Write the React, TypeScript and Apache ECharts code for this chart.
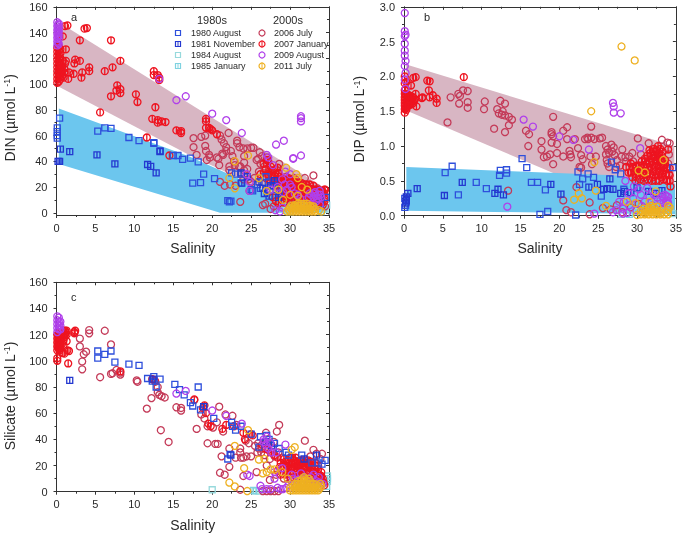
import React, { useEffect, useRef } from "react";
import * as echarts from "echarts";

type P = number[];
const xTicks = { min: 0, max: 35, interval: 5 };
const names1980s = ["1980 August", "1981 November", "1984 August", "1985 January"];
const names2000s = ["2006 July", "2007 January", "2009 August", "2011 July"];

const bandPinkA: P[] = [[0.3,148],[34.8,18],[34.8,8],[28,14],[17,45],[0.3,98]];
const bandBlueA: P[] = [[0.3,81],[17,44],[28,14],[34.8,8],[34.8,0],[21,0],[0.3,38]];
const bandPinkB: P[] = [[0.3,2.17],[34.8,1.0],[34.8,0.45],[19.5,0.6],[0.3,1.51]];
const bandBlueB: P[] = [[0.3,0.7],[27,0.58],[34.9,0.46],[34.9,0.02],[0.3,0.07]];

const a1980: P[] = [[0.1,66],[0.1,63],[0.1,60],[0.1,58],[0.4,73.5],[5.3,63.5],[6.2,66],[7,65.5],[9.3,58.5],[10.6,56],[12.5,54.5],[12.5,54],[15,44.5],[15.6,44.5],[16.2,41.5],[17.2,42.5],[17.5,23],[18.2,39.5],[18.5,23.5],[18.9,30],[20.3,26.5],[22.5,31],[23,30],[23.7,30],[22,9.5],[22.4,9],[22.2,8.5],[23.7,23],[25,18],[25.8,22],[26.2,19],[26.9,28],[27.2,24],[27.8,21],[28.2,18],[28.6,15],[34.6,12],[25.2,17],[27,18],[28,23],[33.9,7]];
const a1981: P[] = [[0.2,40],[0.4,40],[0.5,49.5],[1.7,47.5],[5.2,45],[7.5,38],[11.7,37.5],[12.1,36],[12.8,31],[13.3,47.5],[13.3,48],[24.5,28],[26,24],[26.5,19],[27.5,21],[28,25],[28.5,12],[23.7,31],[23.8,23],[26.7,15],[27.3,13]];
const a1984: P[] = [[29.5,2],[31,5],[33,4],[34.5,3]];
const a1985: P[] = [[30,1],[32,2],[34,1],[34.7,6]];
const a2006: P[] = [[17.6,58],[17.6,51],[18,45],[18.6,59],[19.1,60],[19.1,52],[19.2,48],[19.3,41],[19.6,45],[19.7,43],[20.6,43],[20.9,37],[20.8,42],[21,60],[21.2,57],[21.5,54],[21.8,51],[21.3,46],[21.4,45],[21.8,48],[22.1,62],[22.2,36],[22.4,48],[22.6,44],[22.8,40],[22.9,37],[23.2,56],[23.2,54],[23.5,51],[23.6,36],[23.7,30],[24,50],[24.1,44],[24.1,39],[24.5,50],[25,50.5],[25.3,50.5],[21,24],[21.6,21],[22.3,22],[22.2,33],[23.6,8.5],[24,26],[24.5,34],[24.8,17],[25.7,41],[25.9,42],[26.1,47],[26.2,38],[26.4,44],[26.5,6],[26.8,7],[27,43],[26.7,36],[26.8,33],[27,30],[27.3,25],[33,29],[31.9,27],[30.5,27],[29.5,28],[28.6,38],[28.3,33],[27.6,30],[27.9,5],[27.5,3],[28.8,20],[29.3,17],[30.2,12],[30.8,8],[31.5,5],[32.4,3],[33.3,7],[34.5,5],[34.1,17],[33.5,19],[32.6,16],[26,32],[25.4,27],[25,24],[24.7,26],[24.1,33],[23.4,36],[23,21]];
const a2007: P[] = [[0.1,101],[0.1,104],[0.1,107],[0.1,110],[0.1,113],[0.1,116],[0.1,119],[0.1,122],[0.1,125],[0.1,128],[0.3,102],[0.3,105],[0.3,108],[0.3,111],[0.3,114],[0.3,117],[0.3,120],[0.3,123],[0.3,126],[0.3,129],[0.5,104],[0.5,108],[0.5,112],[0.5,116],[0.5,120],[0.5,124],[0.5,127],[0.7,106],[0.7,110],[0.7,113],[0.8,118],[0.9,105],[1,109],[1,112],[1.1,116],[1.2,118],[1.2,127],[1.5,104],[1.6,109],[1.1,145],[1.4,145.5],[0.8,137],[2.2,108],[2.3,116],[2.4,119],[3,118],[3,134],[3.2,105],[3.3,109],[3.6,143],[3.9,143.5],[4.2,110],[4.2,113],[6.2,110],[7,134],[7.2,113],[8.2,118],[7,90.5],[7.7,95],[7.8,99],[8.2,93],[8.2,96],[5.6,78],[10.2,92],[10.4,86],[12.3,73],[12.7,82],[12.5,110],[12.5,107],[13,107],[13.2,105],[13.2,103],[13,72],[13,70],[13.5,71],[14,70.5],[11.6,58.5],[14.5,44.5],[15.4,64],[16,62],[16,63.5],[19.2,73],[19.2,71],[19.2,66],[19.6,66],[19.8,65],[20,64],[20.6,61],[27.2,40],[27.5,36],[27.8,33],[28,29],[28.2,26],[28.5,31],[28.8,28],[29,24],[29.2,21],[29.5,25],[29.8,22],[30,19],[30.2,24],[30.5,21],[30.8,18],[31,15],[31.2,22],[31.5,19],[31.8,16],[32,13],[32.2,19],[32.5,15],[32.8,12],[33,9],[33.2,17],[33.5,13],[33.8,10],[34,7],[34.2,15],[34.4,11],[34.5,18],[30.2,10],[31,10],[29.4,13],[28.6,17],[27.5,24],[26.9,27],[26.2,30],[33.4,5],[32.2,8]];
const a2007Dense: P[] = [[29,14],[29.5,15],[30,15],[30.5,14],[31,14],[31.5,13],[32,11],[32.5,10],[33,11],[33.5,10],[34,11],[34.4,9],[29,17],[29.5,17],[30,17],[30.5,16],[31,17],[31.5,16],[32,16],[32.5,17],[33,15],[33.5,16],[34,14],[34.4,15],[28.5,20],[29,20],[29.5,20],[30,21],[30.5,18],[31,19],[31.5,21],[32,20],[32.5,19],[33,18],[33.5,18],[34,17],[34.4,18],[28.5,23],[29,23],[29.5,23],[30,24],[30.5,24],[31,23],[31.5,23],[32,22],[32.5,22],[33,21],[28.2,25],[28.8,26],[29.3,26],[29.8,27],[30.3,26],[30.8,25],[27.6,27],[28.1,28],[27.2,30],[27.6,33],[28.4,35],[26.9,34],[26.6,38],[27.1,41],[31,11],[30,12],[29.5,11],[28.8,12],[28.2,9],[28.5,7],[29.2,8],[27.8,12],[33.5,7],[34.2,6],[32.8,7]];
const a2009: P[] = [[0.1,130],[0.1,133],[0.1,136],[0.1,139],[0.1,142],[0.1,145],[0.1,148],[0.3,131],[0.3,135],[0.3,138],[0.3,141],[0.3,144],[0.3,147],[0.2,132],[0.2,137],[0.2,140],[0.2,143],[0.2,146],[13.2,104],[15.4,87.5],[16.6,90.5],[20,77],[21.8,72],[23.8,62],[28.2,53],[29.2,56],[30.4,42],[30.4,42.5],[31.4,44.5],[31.4,75],[31.4,73.5],[31.4,71],[27,45],[27.2,43],[27.8,37],[24.4,30],[24.8,24],[24.8,17],[28.1,2],[29,4],[28.7,1],[29.4,32],[30,30],[29,26],[33,12],[33.6,14],[33,15],[32.4,12],[33.8,17],[33.4,9],[34,12],[32.9,6],[33.8,6],[31.3,11],[30,22],[29.6,18],[32.7,14],[33.3,13],[33.6,11],[33.9,14],[33.2,16],[32.5,15],[30.6,15],[30.2,20],[31,14],[29.3,22],[29.1,16],[28.4,20],[27.5,18]];
const a2011: P[] = [[22.2,27],[22.9,19],[22.9,40],[24.6,44.5],[26,27],[27,17],[29.1,10],[29.5,35],[30.8,30],[31,27],[28.5,18],[30,14],[31,13],[31.5,20],[32.2,18],[33.7,2],[29.6,1],[30,1],[30.4,1],[30.8,1],[31.2,1],[31.6,1],[32,1],[32.4,1],[32.8,1],[33.2,1],[30,4],[30.4,4],[30.8,4],[31.2,4],[31.6,4],[32,4],[32.4,4],[32.8,4],[31,7],[31.4,7],[31.8,7],[32.2,7],[30.6,6],[33.2,3],[34,1],[29.8,2.5],[30.2,2.5],[30.6,2.5],[31,2.5],[31.4,2.5],[31.8,2.5],[32.2,2.5],[32.6,2.5],[33,2.5],[30.2,5.5],[30.6,5],[31,5.5],[31.4,5.5],[31.8,5.5],[32.2,5.5],[32.6,5.5],[33,5]];

const b1980: P[] = [[0.1,0.12],[0.2,0.15],[0.3,0.2],[0.1,0.25],[5.3,0.62],[6.2,0.71],[7,0.3],[9.3,0.48],[10.6,0.39],[12.3,0.58],[12.4,0.65],[13.2,0.61],[13.2,0.66],[15.2,0.82],[15.8,0.69],[16.4,0.48],[17.2,0.48],[17.5,0.02],[18.2,0.37],[18.5,0.06],[22.1,0.01],[22.4,0.63],[22.6,0.45],[23,0.53],[23.7,0.6],[24.4,0.55],[25.4,0.28],[26.7,0.77],[27.2,0.66],[27.9,0.6],[34.6,0.69],[28.3,0.38]];
const b1981: P[] = [[0.2,0.18],[0.3,0.22],[0.3,0.27],[0.5,0.32],[1.7,0.39],[5.2,0.29],[7.5,0.48],[11.7,0.32],[12.1,0.38],[12.8,0.3],[18.9,0.45],[20.2,0.31],[23.8,0.41],[24.9,0.45],[25.7,0.38],[26.2,0.39],[26.5,0.53],[26.9,0.38],[27.9,0.32],[28.4,0.35],[29.2,0.33],[30,0.4],[31.5,0.35],[32.5,0.32],[33.2,0.36]];
const b1984: P[] = [[28,0.02],[30,0.06],[34.6,0.03]];
const b1985: P[] = [[29,0.02],[33,0.04]];
const b2006: P[] = [[5.6,1.34],[6,1.7],[7,1.75],[7.1,1.61],[7.2,1.72],[7.6,1.8],[8.2,1.79],[8.2,1.63],[8.2,1.55],[10.3,1.53],[10.4,1.64],[12,1.53],[12.2,1.47],[12.4,1.65],[12.7,1.5],[13,1.61],[12.6,1.45],[13,1.44],[13.5,1.42],[13.9,1.38],[13.5,1.3],[13,1.2],[11.6,1.25],[15.7,1.22],[16.1,1.17],[16,1],[17.7,1.07],[17.7,0.95],[18,0.84],[18.4,0.85],[18.8,0.88],[19,1.2],[19,1.17],[19.2,1.42],[19.2,1.14],[19,1.05],[19.2,0.74],[19.7,0.9],[19.7,1.03],[20.5,1.22],[21,1.27],[20.5,0.85],[21,1.1],[21.3,0.93],[21.4,0.88],[21.5,0.84],[22,1.1],[22.4,0.97],[22.8,0.87],[22.8,0.69],[23,0.81],[23.3,1.1],[23.6,1.12],[23.7,1.1],[24.1,1.28],[24.1,1.12],[24,0.85],[24.2,0.74],[24.5,1.1],[24.7,0.85],[25.2,1.11],[25.5,1.12],[26,0.88],[26.1,0.8],[26.2,0.95],[26.4,0.7],[26.7,1.02],[27,0.98],[27.1,0.87],[27.4,0.8],[27.8,0.72],[28.1,0.95],[28.5,0.84],[29.5,0.78],[30.1,1.11],[31.5,1.04],[33.2,1.09],[33.9,1.05],[34.2,1.04],[34.1,0.88],[34,0.75],[13.4,0.36],[20.5,0.22],[20.9,0.08],[21.5,0.05],[22.2,0.41],[23.9,0.02],[23.9,0.19],[25.6,0.11],[26.6,0.09],[27.4,0.15],[28.1,0.05],[29.2,0.12],[30.2,0.17],[31.4,0.12],[22.6,0.7],[26,1.0],[26.4,0.9],[26.8,0.92],[26.2,0.75],[27.3,0.7],[28,0.85],[28.6,0.78],[29,0.85],[29.4,0.9],[30.5,0.88]];
const b2007: P[] = [[0.1,1.48],[0.1,1.53],[0.1,1.58],[0.1,1.62],[0.1,1.66],[0.1,1.7],[0.1,1.75],[0.1,1.8],[0.1,1.9],[0.1,2],[0.3,1.52],[0.3,1.56],[0.3,1.6],[0.3,1.64],[0.3,1.68],[0.3,1.72],[0.3,1.92],[0.5,1.62],[0.5,1.66],[0.5,1.7],[0.7,1.62],[0.7,1.68],[0.9,1.64],[0.9,1.68],[1.1,1.65],[1.2,1.7],[1.4,1.67],[1.5,1.75],[1.6,1.57],[1.5,1.99],[1.2,1.98],[0.9,1.87],[2.3,1.69],[2.4,1.7],[3,1.94],[3.3,1.93],[3.2,1.8],[3.3,1.7],[3.7,1.73],[4.2,1.68],[4.2,1.62],[7.7,1.99],[28.6,0.7],[28.9,0.62],[29.2,0.75],[29.5,0.68],[29.9,0.6],[30.2,0.72],[30.5,0.65],[30.8,0.58],[31,0.82],[31.2,0.74],[31.5,0.66],[31.7,0.9],[31.9,0.82],[32,0.73],[32.2,0.96],[32.3,0.88],[32.4,0.64],[32.5,0.8],[32.6,0.72],[32.7,1],[32.8,0.9],[32.9,0.62],[33,0.82],[33.1,0.72],[33.3,0.92],[33.4,0.65],[33.6,0.8],[33.8,0.7],[34,0.95],[34.1,0.6],[34.2,0.5],[34.3,0.42],[33.2,0.55],[32,0.55],[30.9,0.5],[29.8,0.5]];
const b2007Dense: P[] = [[29.4,0.55],[29.9,0.56],[30.4,0.52],[30.9,0.55],[31.4,0.52],[31.9,0.5],[32.4,0.5],[32.9,0.5],[33.4,0.52],[33.9,0.5],[29.2,0.62],[29.7,0.64],[30.2,0.62],[30.7,0.62],[31.2,0.6],[31.7,0.6],[32.2,0.58],[32.7,0.58],[33.2,0.6],[33.7,0.6],[34.2,0.58],[29.4,0.7],[29.9,0.72],[30.4,0.72],[30.9,0.7],[31.4,0.7],[31.9,0.68],[32.4,0.7],[32.9,0.68],[33.4,0.72],[33.9,0.68],[30.6,0.78],[31.1,0.78],[31.6,0.78],[32.1,0.78],[32.6,0.78],[33.1,0.78],[33.6,0.74],[34.2,0.68],[31.3,0.86],[31.8,0.86],[32.3,0.84],[32.8,0.84],[33.2,0.86],[31.6,0.94],[32.1,0.92],[32.5,0.94],[33,0.96],[0.2,1.55],[0.4,1.58],[0.6,1.6],[0.8,1.6],[1,1.6],[1.2,1.62],[0.2,1.74],[0.4,1.74],[0.6,1.73],[0.8,1.72],[1,1.71],[1.3,1.65],[0.6,1.58],[0.2,1.82]];
const b2009: P[] = [[0.1,2.91],[0.1,2.65],[0.2,2.6],[0.1,2.58],[0.1,2.47],[0.1,2.37],[0.1,2.3],[0.2,2.22],[0.1,2.15],[0.2,2.05],[0.1,1.95],[0.2,1.82],[13.3,0.13],[15.4,1.38],[16.6,1.28],[20,1.14],[21.8,1.09],[23.8,0.95],[27,1.57],[26.9,1.62],[27,1.48],[27.9,1.47],[30.4,0.97],[24.5,0.03],[26.9,0.05],[28.2,0.03],[28.5,0.5],[29,0.15],[29.5,0.25],[30.5,0.3],[31,0.2],[32,0.15],[33,0.22],[33.5,0.25],[33.9,0.22],[33.6,0.3],[34,0.18],[31.3,0.4],[27.7,0.2],[33.2,0.1],[28.2,0.1],[33.4,0.18],[33.8,0.28],[33.2,0.28],[33.7,0.2],[34,0.27],[32.6,0.26],[32.2,0.3],[31.6,0.28],[30.2,0.38],[29.6,0.42],[28.9,0.32],[28.3,0.2],[30.6,0.14],[29.9,0.08],[28.7,0.04],[27.3,0.08]];
const b2011: P[] = [[21.9,0.23],[22.5,0.32],[22.9,0.25],[24.1,1.5],[24.5,0.77],[24.7,0.36],[26,0.14],[28,2.43],[29.7,2.23],[28.7,0.2],[29.8,0.18],[30.2,0.65],[31,0.62],[31.6,0.2],[32.4,0.35],[33.4,0.8],[30,0.01],[30.5,0.02],[31,0.02],[31.5,0.02],[32,0.02],[32.5,0.02],[33,0.02],[33.5,0.02],[34,0.02],[30.5,0.07],[31,0.07],[31.5,0.08],[32,0.08],[32.5,0.08],[33,0.07],[34,0.08],[31.5,0.12],[32.2,0.12],[31,0.04],[31.5,0.05],[32,0.05],[32.5,0.05],[33,0.04],[33.8,0.05],[34.2,0.12],[34,0.14],[31.8,0.14],[32.6,0.13],[30.8,0.1]];

const c1980: P[] = [[5.3,102],[5.3,107.5],[6.2,105],[7,107.5],[7.5,99],[9.3,97.5],[10.6,96.5],[11.7,86.5],[12.3,84.5],[12.5,88],[12.8,80],[13.3,86],[15.2,82],[15.8,78],[16.4,74],[17.2,68],[17.5,65.5],[18.2,80],[18.5,62.5],[18.9,65],[20.2,56],[22,25],[22.3,28.5],[22.5,53],[22.6,50],[23,47],[23.7,50],[25,44],[26,34],[26.2,42],[27,43],[27.3,40],[28,37],[28.6,33],[29.5,30],[29.8,28],[31.5,28],[32.8,22],[33.6,22],[34.1,21],[34.5,24]];
const c1981: P[] = [[1.7,85],[12.4,86],[18.9,65],[22.4,28],[26.9,38],[27.6,35],[31.8,25],[33.4,28]];
const c1984: P[] = [[20,1.5],[25.5,0.5],[26,0.5],[31.2,10],[34.8,12],[34.8,8]];
const c1985: P[] = [[25.3,1],[34.7,4],[34.8,10],[31.8,6]];
const c2006: P[] = [[3,117],[3,111],[3.3,99.5],[3.3,93.5],[3.5,105],[3.8,107],[4.2,123.5],[4.2,121],[6.2,123],[7,112.5],[5.6,87.5],[7,90],[7.2,90.5],[7.7,93],[8.2,91],[8.2,89.5],[10.3,85],[10.4,84],[11.6,63.5],[12.2,71.5],[12.7,84],[13,80],[13,76],[13.2,74],[13.4,47],[13.5,73],[13.9,72],[14.4,38],[15.4,64.5],[16,62],[16,64],[17.7,70],[18,48],[18.6,59],[19,56],[19.4,50],[19.4,37],[20.4,36.5],[20.7,36.5],[20.6,53],[20.1,49],[20.9,65],[21,14.5],[21.6,13],[21.2,27],[21.4,46],[21.7,59],[22.2,33],[22.2,19],[22.6,58],[23,26],[23.1,51],[23.6,30],[23.6,33],[23.7,26],[23.6,1.5],[24,26],[24.3,39],[24.4,27],[24.7,37],[25,27],[25.7,15],[25.9,37],[26,33],[26.3,30],[26.7,28],[27,20],[26.9,45],[27.4,25],[27.9,38],[28.3,46],[28.6,51],[28.5,30],[29,26],[29.7,24],[30.2,19],[30.8,15],[31.9,39],[32.6,27],[33,32],[33.4,29],[34.1,29],[33.9,25],[27.4,9],[28.2,13],[29.2,10],[30.2,8],[31.2,12],[32.2,14],[33,11],[33.8,9],[26.5,0.5],[27,0.5],[27.5,0.5],[28,0.5],[28.5,0.5],[24,12],[25.5,35],[25.8,30],[26.4,33],[26.8,37],[27.2,34],[27.6,30],[28,27],[27.8,33]];
const c2007: P[] = [[0.1,100],[0.1,102],[0.1,108],[0.1,111],[0.1,114],[0.1,117],[0.1,120],[0.3,109],[0.3,112],[0.3,115],[0.3,118],[0.3,121],[0.5,110],[0.5,113],[0.5,116],[0.5,119],[0.5,122],[0.8,106],[0.9,112],[0.9,116],[0.9,120],[0.9,123],[1.1,120],[1.1,123],[1.3,120],[1.3,123],[1,105.5],[1.3,115],[1.4,108],[1.5,98],[1.6,107.5],[2.3,122],[2.4,123],[2.3,121],[8.2,92],[12.3,86],[12.6,85],[17.7,70.5],[18.8,64],[19,66],[19.2,60],[19.5,52],[19.8,50],[21.3,48],[21.8,51],[22.8,50],[24,45],[24.2,40],[25,44],[25.2,43],[26.4,36],[26.8,33],[27.2,32],[27.6,30],[28,28],[28.4,26],[28.8,22],[29.2,25],[29.6,20],[29.8,17],[30,26],[30.2,22],[30.5,24],[30.8,20],[31,23],[31.2,17],[31.4,21],[31.6,24],[31.8,18],[32,22],[32.2,16],[32.4,20],[32.6,23],[32.8,18],[33,15],[33.2,20],[33.4,13],[33.6,17],[33.8,12],[34,15],[34.2,10],[34.3,7],[34.4,5],[33.6,4],[33,7],[32.4,10],[31.4,13]];
const c2007Dense: P[] = [[29.5,13],[30,14],[30.5,15],[31,16],[31.5,15],[32,14],[32.5,15],[33,13],[33.5,14],[34,12],[29.6,16],[30.1,18],[30.6,18],[31.1,19],[31.6,18],[32.1,19],[32.6,20],[33.1,18],[33.6,20],[29.8,21],[30.3,21],[30.8,22],[31.3,24],[31.8,22],[32.3,24],[32.8,22],[33.3,22],[28.7,19],[29.2,20],[29.4,23],[30.2,26],[30.7,26],[29.7,10],[30.4,11],[31.1,10],[32,10],[32.8,11],[33.4,9],[34,9],[28.4,16],[28.8,13],[0.2,110],[0.2,113],[0.2,116],[0.2,119],[0.4,108],[0.7,113],[0.7,117],[0.7,121],[1,118],[1.2,121.5]];
const c2009: P[] = [[0.1,134],[0.1,131],[0.1,128],[0.1,125],[0.1,122],[0.3,133],[0.3,130],[0.3,127],[0.3,124],[0.5,130],[0.5,127],[0.5,124],[15.4,75],[16.6,77],[20,62],[21.8,58],[23.8,52],[24.5,13],[24.8,12],[26.2,4.5],[26.6,40],[27,42],[27.5,37],[28,10],[29.4,36],[27,2],[27.5,2],[28.4,3],[29.1,2],[29.5,3],[30,3],[28.2,30],[29,18],[30.2,13],[31,9],[31.8,11],[32.4,8],[33,13],[33.4,8],[33.7,11],[34.2,6],[26.9,36],[27.2,33],[28,15],[26.4,2],[28.8,2],[29.8,5],[30.4,10],[31.4,14],[32.7,11],[33.2,6],[34,4],[33.7,7],[26.6,38],[27.6,30]];
const c2011: P[] = [[22.2,7],[22.9,4],[22.9,35],[24.1,18],[24.6,47],[26,24.5],[26.5,14],[26.7,25],[27,15],[27.5,17],[28,17],[29,15],[30.2,32],[30.6,34],[24.5,0.5],[29.7,10],[30,1],[30.4,1],[30.8,1],[31.2,1],[31.6,1],[32,1],[32.4,1],[32.8,1],[33.2,1],[33.6,1],[34,4],[30.4,4],[30.8,4],[31.2,4],[31.6,4],[32,4],[32.4,4],[32.8,4],[33.2,4],[33.6,4],[31,8],[31.4,8],[31.8,8],[32.2,8],[32.6,8],[31.8,11],[33.9,6],[30,3],[30.6,2.5],[31,2.5],[31.4,2.5],[31.8,2.5],[32.2,2.5],[32.6,2.5],[33,2.5],[33.4,2.5],[33.8,2.5],[30.6,6],[31,6],[31.4,6],[31.8,6],[32.2,6],[32.6,6],[33,6],[33.4,5.5],[32,9.5],[31.5,9.5],[32.4,10]];

const squareBar = "path://M0 0H10V10H0ZM5 0V10";
const circleBar = "path://M5 0A5 5 0 1 1 5 10A5 5 0 1 1 5 0ZM5 0V10";
const C = {
  a80: "#2e4fdc", a81: "#2438d0", a84: "#97d9dc", a85: "#7fd2e0",
  a06: "#c43a58", a07: "#ee1420", a09: "#b040ea", a11: "#eeb020",
};
const PINK = "#d8b6c3";
const BLUE = "#6cc6ee";
const FONT = "Liberation Sans";
const TXT = "#2a2a2a";
const AX = "#333";

const band = (verts: P[], color: string, i: number) => ({
  type: "custom", xAxisIndex: i * 2, yAxisIndex: i * 2, silent: true, z: 1, data: verts,
  renderItem: (p: any, api: any) => {
    if (p.dataIndex !== 0) return null;
    return { type: "polygon", shape: { points: verts.map((v) => api.coord(v)) }, style: { fill: color } };
  },
});
const scat = (d: P[], sym: string, col: string, i: number, size: number, z: number) => ({
  type: "scatter", data: d, symbol: sym, symbolSize: size, xAxisIndex: i * 2, yAxisIndex: i * 2, z,
  clip: false, silent: true,
  itemStyle: { color: "rgba(0,0,0,0)", borderColor: col, borderWidth: 1.3, opacity: 1 },
});
const panelSeries = (i: number, s: P[][]) => [
  scat(s[2], "rect", C.a84, i, 6, 3), scat(s[3], squareBar, C.a85, i, 6, 3),
  scat(s[4], "circle", C.a06, i, 7, 4), scat(s[5], circleBar, C.a07, i, 7, 5),
  scat(s[0], "rect", C.a80, i, 6, 6), scat(s[1], squareBar, C.a81, i, 6, 6),
  scat(s[6], "circle", C.a09, i, 7, 7), scat(s[7], "circle", C.a11, i, 7, 8),
];

const xPair = (gridIndex: number, offset: number, nameGap: number) => {
  const line = { show: true, lineStyle: { color: AX, width: 1 } };
  return [
    { type: "value", gridIndex, ...xTicks, position: "bottom", offset, name: "Salinity", nameLocation: "middle", nameGap,
      nameTextStyle: { fontFamily: FONT, fontSize: 14, color: TXT }, axisLine: { ...line, onZero: false },
      axisTick: { show: true, length: 3, lineStyle: { color: AX } }, minorTick: { show: true, splitNumber: 2, length: 2, lineStyle: { color: AX } },
      axisLabel: { fontFamily: FONT, fontSize: 11, color: TXT, margin: 7 }, splitLine: { show: false } },
    { type: "value", gridIndex, ...xTicks, position: "top", axisLine: { ...line, onZero: false },
      axisTick: { show: true, inside: true, length: 3, lineStyle: { color: AX } }, minorTick: { show: true, splitNumber: 2, length: 2, lineStyle: { color: AX } },
      axisLabel: { show: false }, splitLine: { show: false } },
  ];
};
const yPair = (gridIndex: number, max: number, interval: number, name: any, gap: number, shift: number, fmt?: any) => {
  const line = { show: true, lineStyle: { color: AX, width: 1 } };
  return [
    { type: "value", gridIndex, min: 0, max, interval, position: "left", name, nameLocation: "middle", nameGap: gap,
      nameTextStyle: { fontFamily: FONT, fontSize: 14, color: TXT, padding: [0, shift, 0, 0],
        rich: { s: { fontFamily: FONT, fontSize: 9, color: TXT, verticalAlign: "top", lineHeight: 14 }, n: { fontFamily: FONT, fontSize: 14, color: TXT } } },
      axisLine: { ...line, onZero: false }, axisTick: { show: true, length: 3, lineStyle: { color: AX } },
      minorTick: { show: true, splitNumber: 2, length: 2, lineStyle: { color: AX } },
      axisLabel: { fontFamily: FONT, fontSize: 11, color: TXT, margin: 9, formatter: fmt }, splitLine: { show: false } },
    { type: "value", gridIndex, min: 0, max, interval, position: "right", axisLine: { ...line, onZero: false },
      axisTick: { show: true, inside: true, length: 3, lineStyle: { color: AX } }, minorTick: { show: true, splitNumber: 2, length: 2, lineStyle: { color: AX } },
      axisLabel: { show: false }, splitLine: { show: false } },
  ];
};

const legendText = (text: string, x: number, y: number, size = 9) => ({
  type: "text", x, y, style: { text, fontFamily: FONT, fontSize: size, fill: TXT, textVerticalAlign: "middle" }, z: 20,
});
const legendRows = [33, 44, 55, 66];
const squareCols = [C.a80, C.a81, C.a84, C.a85];
const circleCols = [C.a06, C.a07, C.a09, C.a11];
const legendGraphics: any[] = [
  legendText("1980s", 197, 20, 11), legendText("2000s", 273, 20, 11),
  legendText("a", 71, 17, 11), legendText("b", 424, 17, 11), legendText("c", 71, 297, 11),
  { type: "line", shape: { x1: 56.5, y1: 212.8, x2: 56.5, y2: 215 }, style: { stroke: AX, lineWidth: 1 }, z: 20 },
  { type: "line", shape: { x1: 329, y1: 212.8, x2: 329, y2: 215 }, style: { stroke: AX, lineWidth: 1 }, z: 20 },
];
legendRows.forEach((y, i) => {
  legendGraphics.push(legendText(names1980s[i], 191, y));
  legendGraphics.push(legendText(names2000s[i], 274, y));
  legendGraphics.push({ type: "rect", shape: { x: 175.5, y: y - 2.5, width: 5, height: 5 }, style: { fill: "none", stroke: squareCols[i], lineWidth: 1.2 }, z: 20 });
  legendGraphics.push({ type: "circle", shape: { cx: 262, cy: y, r: 3 }, style: { fill: "none", stroke: circleCols[i], lineWidth: 1.2 }, z: 20 });
  if (i % 2 === 1) {
    legendGraphics.push({ type: "line", shape: { x1: 178, y1: y - 2.5, x2: 178, y2: y + 2.5 }, style: { stroke: squareCols[i], lineWidth: 1 }, z: 20 });
    legendGraphics.push({ type: "line", shape: { x1: 262, y1: y - 3, x2: 262, y2: y + 3 }, style: { stroke: circleCols[i], lineWidth: 1 }, z: 20 });
  }
});

export default function App() {
  const ref = useRef<HTMLDivElement>(null);
  useEffect(() => {
    const chart = echarts.init(ref.current!, null, { renderer: "svg" });
    chart.setOption({
      animation: false,
      backgroundColor: "#fff",
      grid: [
        { left: 56.5, top: 6.8, width: 272.5, height: 206 },
        { left: 404, top: 6.8, width: 273, height: 208.9 },
        { left: 56.5, top: 282.3, width: 272.5, height: 209.4 },
      ],
      xAxis: [...xPair(0, 2.2, 26), ...xPair(1, 0, 25), ...xPair(2, 0, 26)],
      yAxis: [
        ...yPair(0, 160, 20, "DIN (µmol L{s|-1}{n|)}", 40, 16),
        ...yPair(1, 3, 0.5, "DIP (µmol L{s|-1}{n|)}", 38, 16, (v: number) => v.toFixed(1)),
        ...yPair(2, 160, 20, "Silicate (µmol L{s|-1}{n|)}", 40, 18),
      ],
      series: [
        band(bandPinkA, PINK, 0), band(bandBlueA, BLUE, 0),
        band(bandPinkB, PINK, 1), band(bandBlueB, BLUE, 1),
        ...panelSeries(0, [a1980, a1981, a1984, a1985, a2006, a2007.concat(a2007Dense), a2009, a2011]),
        ...panelSeries(1, [b1980, b1981, b1984, b1985, b2006, b2007.concat(b2007Dense), b2009, b2011]),
        ...panelSeries(2, [c1980, c1981, c1984, c1985, c2006, c2007.concat(c2007Dense), c2009, c2011]),
      ],
      graphic: legendGraphics,
    });
    return () => chart.dispose();
  }, []);
  return <div ref={ref} style={{ position: "absolute", left: 0, top: 0, width: 685, height: 533, filter: "blur(0.45px)" }} />;
}
